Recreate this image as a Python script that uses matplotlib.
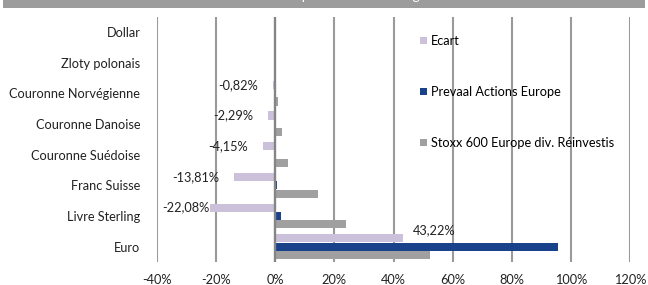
import matplotlib
matplotlib.use("Agg")
import matplotlib.pyplot as plt
from matplotlib.patches import Rectangle
import numpy as np

categories = ["Dollar", "Zloty polonais", "Couronne Norvégienne", "Couronne Danoise",
              "Couronne Suédoise", "Franc Suisse", "Livre Sterling", "Euro"]
ecart = [0.0, -0.3, -0.82, -2.29, -4.15, -13.81, -22.08, 43.22]
prevaal = [0.0, 0.0, 0.0, 0.0, 0.0, 0.5, 2.0, 95.5]
stoxx = [0.0, 0.3, 0.82, 2.29, 4.15, 14.31, 24.08, 52.28]
labels = [None, None, "-0,82%", "-2,29%", "-4,15%", "-13,81%", "-22,08%", "43,22%"]
xticks = [-40, -20, 0, 20, 40, 60, 80, 100, 120]
series_names = ["Ecart", "Prevaal Actions Europe", "Stoxx 600 Europe div. Réinvestis"]

plt.rcParams['font.family'] = ['Lato', 'DejaVu Sans']
FS = 9.2

c_ecart = "#ccc1da"
c_prev = "#1a428a"
c_stoxx = "#a0a0a0"
c_grid = "#9a9a9a"

W, H = 648, 285
fig = plt.figure(figsize=(W / 100, H / 100), dpi=100)

# title banner (text mostly cut off at top in the reference)
fig.patches.append(Rectangle((3 / W, 1 - 8 / H), 642 / W, 8 / H, transform=fig.transFigure,
                             facecolor="#9c9c9c", edgecolor="none", zorder=0))
fig.text(0.5, 1 - 0.5 / H, "Contribution par devise et change", color="white", ha="center",
         va="baseline", fontsize=10)

ax = fig.add_axes([157 / W, 1 - 262 / H, (630 - 157) / W, (262 - 16.5) / H])
ax.set_xlim(-40, 120)
n = len(categories)
ax.set_ylim(n - 0.5, -0.5)

y = np.arange(n)
h = 0.265
off = 0.272
ax.barh(y - off, ecart, height=h, color=c_ecart, zorder=3, label=series_names[0])
ax.barh(y, prevaal, height=h, color=c_prev, zorder=3, label=series_names[1])
ax.barh(y + off, stoxx, height=h, color=c_stoxx, zorder=3, label=series_names[2])

for xv in xticks:
    ax.axvline(xv, color="#858585" if xv == 0 else c_grid, lw=1.7 if xv == 0 else 1.5,
               zorder=2 if xv != 0 else 4)

# white legend background covering gridlines on the right
ax.add_patch(Rectangle((340, -0.5), 300, 4.8, facecolor="white", edgecolor="none",
                       zorder=2.5, clip_on=False))

label_offsets = [None, None, (-15, 0), (-15, 0), (-15, 0), (-15, 0), (0, 0), (10, 8)]
for i, (v, lab, o) in enumerate(zip(ecart, labels, label_offsets)):
    if lab is None:
        continue
    ha = "right" if v < 0 else "left"
    ax.annotate(lab, (v, y[i] - off), xytext=o, textcoords="offset pixels",
                ha=ha, va="center", fontsize=FS, color="#222222", zorder=5)

ax.set_yticks(y)
ax.set_yticklabels(categories, fontsize=FS)
ax.set_xticks(xticks)
ax.set_xticklabels([f"{t}%" for t in xticks], fontsize=FS)
ax.tick_params(axis="both", length=0, colors="#222222")
ax.tick_params(axis="y", pad=12)
ax.tick_params(axis="x", pad=9)
for s in ax.spines.values():
    s.set_visible(False)

leg = ax.legend(loc="upper left", bbox_to_anchor=(420 / W, 1 - 35 / H),
                bbox_transform=fig.transFigure, frameon=False, fontsize=FS,
                handlelength=0.55, handleheight=0.55, handletextpad=0.3,
                labelspacing=3.05, borderpad=0, borderaxespad=0)
leg.set_zorder(6)

fig.savefig("out.png", dpi=100)
